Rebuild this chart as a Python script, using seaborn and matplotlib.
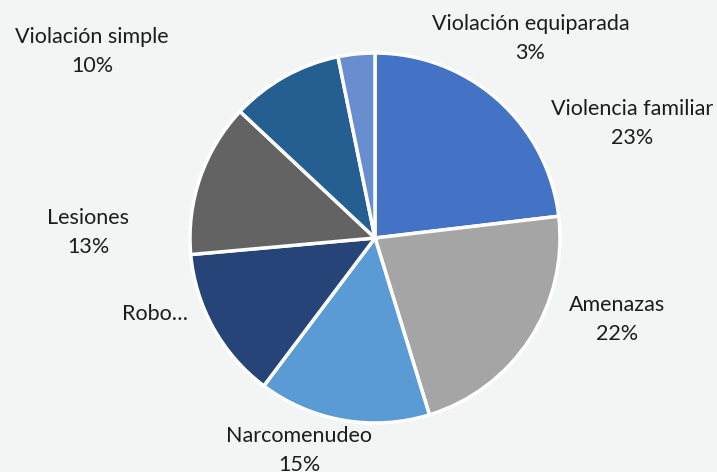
import numpy as np
import seaborn as sns
import matplotlib.pyplot as plt

# datos del gráfico
categorias = ['Violencia familiar', 'Amenazas', 'Narcomenudeo', 'Robo…',
              'Lesiones', 'Violación simple', 'Violación equiparada']
porcentajes = [23.1, 22.1, 15.0, 13.3, 13.4, 9.8, 3.2]
mostrar_pct = [True, True, True, False, True, True, True]

colores = ['#4472C4', '#A5A5A5', '#5B9BD5', '#264478',
           '#636363', '#255E91', '#698ED0']

# posición de cada etiqueta (en radios del pastel)
pos_etiquetas = [(1.39, 0.62), (1.31, -0.44), (-0.41, -1.15), (-1.19, -0.41),
                 (-1.55, 0.03), (-1.53, 1.01), (0.84, 1.08)]

sns.set_theme(style='white')
plt.rcParams['font.family'] = ['Lato', 'DejaVu Sans']

fondo = '#F3F4F4'
fig = plt.figure(figsize=(7.17, 4.72), dpi=100, facecolor=fondo)
ax = fig.add_axes([0, 0, 1, 1], facecolor=fondo)

ax.pie(porcentajes, colors=colores, startangle=90, counterclock=False,
       radius=1, wedgeprops=dict(edgecolor='white', linewidth=2.5))

total = sum(porcentajes)
for cat, val, ver, (x, y) in zip(categorias, porcentajes, mostrar_pct, pos_etiquetas):
    texto = f'{cat}\n{round(val / total * 100):.0f}%' if ver else cat
    ax.text(x, y, texto, ha='center', va='center', fontsize=15.5,
            color='#1c1c1c', linespacing=1.55)

# centro en (375, 238) px, radio 185 px
ax.set_xlim(-375 / 185, (717 - 375) / 185)
ax.set_ylim(-(472 - 238) / 185, 238 / 185)
ax.set_aspect('auto')
ax.axis('off')

fig.savefig('out.png', dpi=100, facecolor=fondo)
